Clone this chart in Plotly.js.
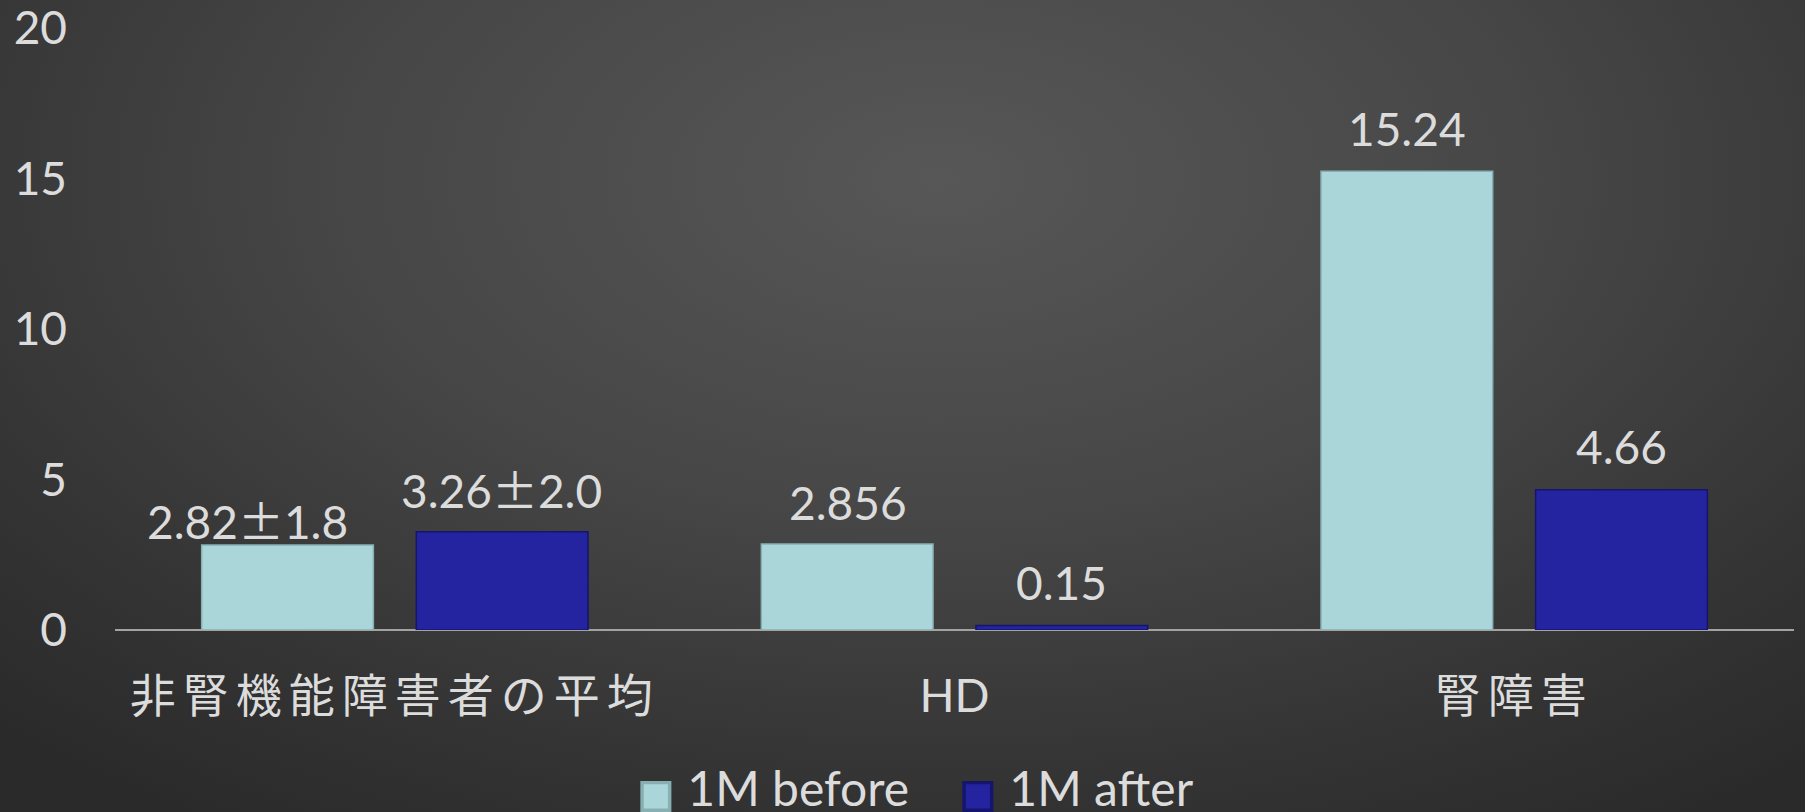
<!DOCTYPE html>
<html>
<head>
<meta charset="utf-8">
<script src="https://cdn.plot.ly/plotly-3.0.1.min.js"></script>
<style>
  html, body { margin: 0; padding: 0; }
  body {
    width: 1805px; height: 812px; overflow: hidden;
    background: radial-gradient(ellipse 75% 95% at 52% 22%, #575757 0%, #464646 45%, #333333 80%, #2a2a2a 100%);
  }
  #chart { width: 1805px; height: 812px; }
</style>
</head>
<body>
<div id="chart"></div>
<script>
// ---- data ----
const categories = ["非腎機能障害者の平均", "HD", "腎障害"];
const seriesNames = ["1M before", "1M after"];
const beforeValues = [2.82, 2.856, 15.24];
const afterValues = [3.26, 0.15, 4.66];
const beforeLabels = ["2.82±1.8", "2.856", "15.24"];
const afterLabels = ["3.26±2.0", "0.15", "4.66"];
const yTicks = [0, 5, 10, 15, 20];

// ---- style ----
const latin = "Lato, 'Noto Sans CJK JP', sans-serif";
const textColor = "#dcdcdc";
const beforeColor = "#aad6da";
const afterColor = "#2424a0";
const slotShift = 107;           // px offset of each bar from category centre
const beforeNudge = [[-40, 26], [0, 42], [0, 43]]; // [xshift extra, yshift] for label centres
const afterNudge = [[0, 44], [0, 43], [0, 43]];

function wideSign(s) {
  return s.replace("±", "<span style=\"font-family:'Noto Sans CJK JP'\">±</span>");
}

const traces = [
  {
    type: "bar", name: seriesNames[0], x: categories, y: beforeValues,
    marker: { color: beforeColor, line: { color: "#88b0b3", width: 1.5 } },
    hoverinfo: "skip"
  },
  {
    type: "bar", name: seriesNames[1], x: categories, y: afterValues,
    marker: { color: afterColor, line: { color: "#15156e", width: 1.5 } },
    hoverinfo: "skip"
  }
];

const annotations = [];
categories.forEach((c, j) => {
  annotations.push({
    x: c, y: beforeValues[j], xref: "x", yref: "y", text: wideSign(beforeLabels[j]),
    showarrow: false, xanchor: "center", yanchor: "middle",
    xshift: -slotShift + beforeNudge[j][0], yshift: beforeNudge[j][1],
    font: { family: latin, size: 46, color: textColor }
  });
  annotations.push({
    x: c, y: afterValues[j], xref: "x", yref: "y", text: wideSign(afterLabels[j]),
    showarrow: false, xanchor: "center", yanchor: "middle",
    xshift: slotShift + afterNudge[j][0], yshift: afterNudge[j][1],
    font: { family: latin, size: 46, color: textColor }
  });
});

const layout = {
  width: 1805, height: 812,
  paper_bgcolor: "rgba(0,0,0,0)", plot_bgcolor: "rgba(0,0,0,0)",
  margin: { l: 115, r: 11, t: 28, b: 182, autoexpand: false },
  barmode: "group", bargap: 0.233, bargroupgap: 0.2,
  showlegend: true,
  legend: {
    orientation: "h", x: 0.502, xanchor: "center", y: -0.262, yanchor: "middle",
    font: { family: latin, size: 48, color: textColor },
    bgcolor: "rgba(0,0,0,0)", entrywidth: 277, entrywidthmode: "pixels"
  },
  xaxis: {
    type: "category", showgrid: false, showline: false, zeroline: false,
    ticks: "", ticklabelstandoff: 35,
    tickfont: { family: "Lato, 'Noto Sans CJK JP', sans-serif", size: 46, color: textColor }
  },
  yaxis: {
    range: [0, 20], tickvals: yTicks, ticktext: yTicks.map(String),
    showgrid: false, showline: false, zeroline: true, zerolinecolor: "#a3a3a3", zerolinewidth: 2,
    ticks: "", ticklabelstandoff: 47, ticklabeloverflow: "allow",
    tickfont: { family: latin, size: 46, color: textColor }
  },
  annotations: annotations
};

Plotly.newPlot("chart", traces, layout, { displayModeBar: false, staticPlot: true }).then(gd => {
  // widen CJK category labels a little, as in the source slide
  gd.querySelectorAll(".xtick text").forEach(t => {
    if (/[^\x00-\x7F]/.test(t.textContent)) t.style.letterSpacing = "7px";
  });
  // enlarge legend swatches (keep Plotly's own placement transform)
  gd.querySelectorAll(".legendpoints path").forEach(p => {
    const base = p.getAttribute("transform") || "";
    p.setAttribute("transform", base + " translate(0,9) scale(2.3)");
  });
  // leave a wider gap between swatch and legend text
  gd.querySelectorAll(".legendtext").forEach(t => {
    const x0 = parseFloat(t.getAttribute("x")) || 0;
    t.setAttribute("x", x0 + 11.5);
    t.querySelectorAll("tspan[x]").forEach(s => s.setAttribute("x", parseFloat(s.getAttribute("x")) + 11.5));
  });
});
</script>
</body>
</html>
